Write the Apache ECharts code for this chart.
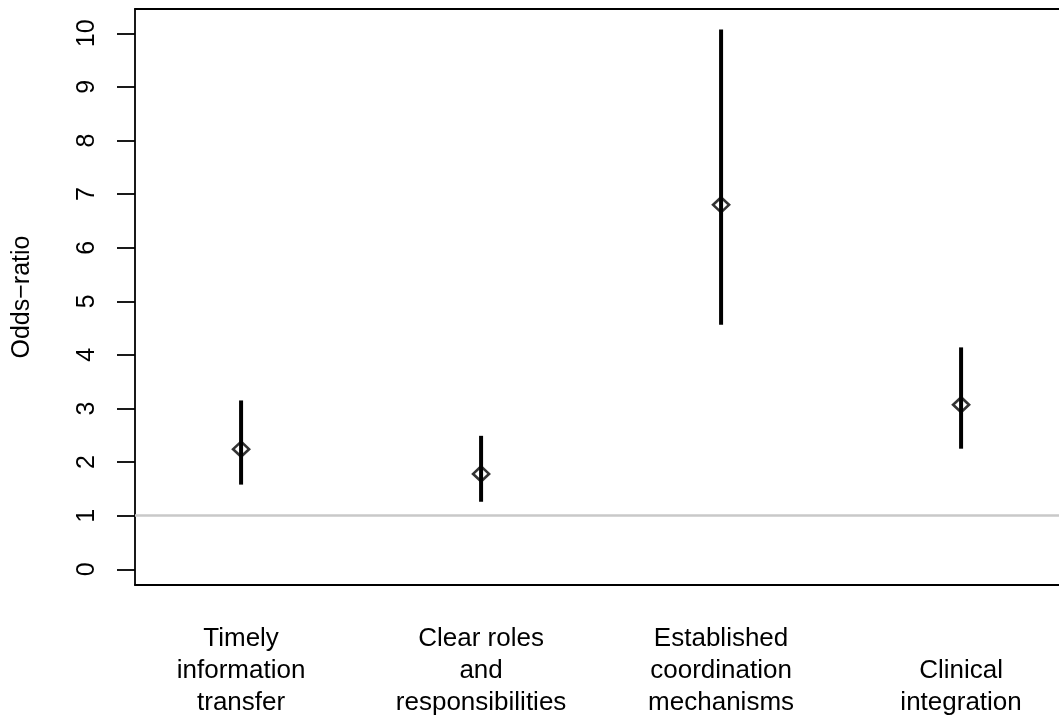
<!DOCTYPE html>
<html>
<head>
<meta charset="utf-8">
<script src="https://cdn.jsdelivr.net/npm/echarts@6/dist/echarts.min.js"></script>
<style>
  html, body { margin: 0; padding: 0; background: #fff; }
  #main { width: 1059px; height: 720px; }
</style>
</head>
<body>
<div id="main"></div>
<script>
const categories = [
  'Timely\ninformation\ntransfer',
  'Clear roles\nand\nresponsibilities',
  'Established\ncoordination\nmechanisms',
  'Clinical\nintegration'
]
const positions = [1, 2, 3, 4]
const oddsRatio = [2.24, 1.78, 6.80, 3.07]
const lower = [1.58, 1.26, 4.56, 2.25]
const upper = [3.15, 2.49, 10.07, 4.14]
const yTicks = [0, 1, 2, 3, 4, 5, 6, 7, 8, 9, 10]
const referenceLine = 1

const font = '"Liberation Sans", Arial, Helvetica, sans-serif'

const chart = echarts.init(document.getElementById('main'), null, { renderer: 'canvas' })

const points = positions.map((p, i) => [p, oddsRatio[i]])
const intervals = positions.map((p, i) => [p, lower[i], upper[i]])

// plot box is cut off on the right, so no right border
const frame = { show: true, onZero: false, lineStyle: { color: '#000', width: 1.8 } }

const option = {
  backgroundColor: '#fff',
  animation: false,
  textStyle: { fontFamily: font, color: '#000' },
  grid: {
    left: 135,
    right: 0,
    top: 9,
    bottom: 135,
    show: false,
    containLabel: false
  },
  xAxis: [
    {
      type: 'value',
      min: 0.558,
      max: 4.408,
      splitLine: { show: false },
      axisLine: frame,
      axisTick: { show: false },
      axisLabel: {
        customValues: positions,
        formatter: v => categories[positions.indexOf(v)] || '',
        fontFamily: font,
        fontSize: 26,
        lineHeight: 32,
        color: '#000',
        verticalAlign: 'bottom',
        align: 'center',
        margin: 134
      }
    },
    {
      type: 'value',
      position: 'top',
      min: 0.558,
      max: 4.408,
      splitLine: { show: false },
      axisLine: frame,
      axisTick: { show: false },
      axisLabel: { show: false }
    }
  ],
  yAxis: {
    type: 'value',
    min: -0.293,
    max: 10.453,
    name: 'Odds\u2212ratio',
    nameLocation: 'middle',
    nameRotate: 90,
    nameGap: 100,
    nameTextStyle: { fontFamily: font, fontSize: 25, color: '#000' },
    splitLine: { show: false },
    axisLine: frame,
    axisTick: {
      show: true,
      customValues: yTicks,
      length: 18,
      lineStyle: { color: '#000', width: 1.8 }
    },
    axisLabel: {
      customValues: yTicks,
      rotate: 90,
      fontFamily: font,
      fontSize: 25,
      color: '#000',
      margin: 35
    }
  },
  series: [
    {
      type: 'custom',
      name: 'interval',
      data: intervals,
      renderItem: (params, api) => {
        const lo = api.coord([api.value(0), api.value(1)])
        const hi = api.coord([api.value(0), api.value(2)])
        return {
          type: 'line',
          shape: { x1: lo[0], y1: lo[1], x2: hi[0], y2: hi[1] },
          style: { stroke: '#000', lineWidth: 4 }
        }
      },
      markLine: {
        silent: true,
        symbol: 'none',
        label: { show: false },
        lineStyle: { color: '#c9c9c9', width: 2.5, type: 'solid' },
        data: [{ yAxis: referenceLine }]
      },
      z: 3
    },
    {
      type: 'scatter',
      name: 'odds ratio',
      data: points,
      symbol: 'diamond',
      symbolSize: [16, 15],
      itemStyle: { color: 'rgba(0,0,0,0)', borderColor: '#000', borderWidth: 2.6 },
      z: 4
    }
  ]
}

chart.setOption(option)
</script>
</body>
</html>
